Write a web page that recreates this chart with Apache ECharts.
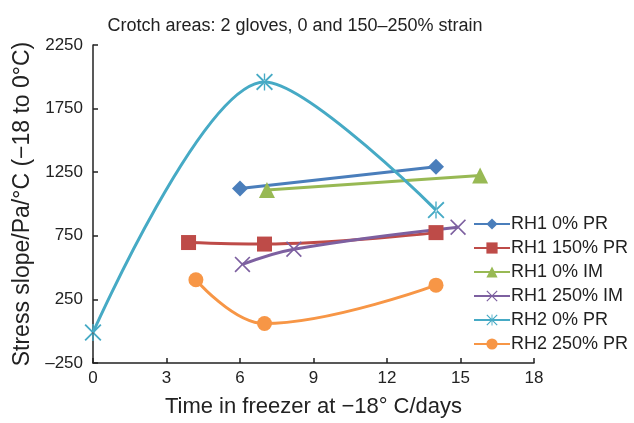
<!DOCTYPE html>
<html><head><meta charset="utf-8">
<script src="https://cdn.jsdelivr.net/npm/echarts@6/dist/echarts.min.js"></script>
<style>html,body{margin:0;padding:0;background:#fff}#c{width:634px;height:423px}</style>
</head><body><div id="c"></div>
<script>
const titleText = 'Crotch areas: 2 gloves, 0 and 150\u2013250% strain';
const xName = 'Time in freezer at \u221218\u00b0 C/days';
const yName = 'Stress slope/Pa/\u00b0C (\u221218 to 0\u00b0C)';
const xTicks = [0, 3, 6, 9, 12, 15, 18];
const yTicks = [-250, 250, 750, 1250, 1750, 2250];
const seriesNames = ['RH1 0% PR', 'RH1 150% PR', 'RH1 0% IM', 'RH1 250% IM', 'RH2 0% PR', 'RH2 250% PR'];
const rh1_0pr_x = [6, 14];       const rh1_0pr_y = [1122, 1292];
const rh1_150pr_x = [3.9, 7, 14]; const rh1_150pr_y = [697, 685, 775];
const rh1_0im_x = [7.1, 15.8];   const rh1_0im_y = [1110, 1225];
const rh1_250im_x = [6.1, 8.2, 14.9]; const rh1_250im_y = [525, 645, 818];
const rh2_0pr_x = [0, 7, 14];    const rh2_0pr_y = [-10, 1960, 952];
const rh2_250pr_x = [4.2, 7, 14]; const rh2_250pr_y = [405, 60, 362];

const xs = [rh1_0pr_x, rh1_150pr_x, rh1_0im_x, rh1_250im_x, rh2_0pr_x, rh2_250pr_x];
const ys = [rh1_0pr_y, rh1_150pr_y, rh1_0im_y, rh1_250im_y, rh2_0pr_y, rh2_250pr_y];
const colors = ['#4a7ebb', '#be4b48', '#98b954', '#7d60a0', '#46aac5', '#f79646'];
const xPath = 'path://M0,1.5 L1.5,0 L10,8.5 L18.5,0 L20,1.5 L11.5,10 L20,18.5 L18.5,20 L10,11.5 L1.5,20 L0,18.5 L8.5,10 Z';
const starPath = 'path://M0,1.5 L1.5,0 L10,8.5 L18.5,0 L20,1.5 L11.5,10 L20,18.5 L18.5,20 L10,11.5 L1.5,20 L0,18.5 L8.5,10 Z M9.2,0 L9.2,20 L10.8,20 L10.8,0 Z';
const symbols = ['diamond', 'rect', 'triangle', xPath, starPath, 'circle'];
const sizes = [16, 15, 16, 16, 17, 15];
const smooths = [0.4, 0.4, 0.4, 0.4, 0.3, 0.4];

const fmtNum = v => (v < 0 ? '\u2013' + Math.abs(v) : String(v));
const chart = echarts.init(document.getElementById('c'));
const FONT = 'Liberation Sans, Arial, sans-serif';
chart.setOption({
  animation: false,
  textStyle: { fontFamily: FONT },
  title: { text: titleText, left: 290, top: 12, textAlign: 'center',
    textStyle: { fontSize: 18, fontWeight: 'normal', color: '#222', fontFamily: FONT } },
  legend: {
    orient: 'vertical', left: 468, top: 210, itemGap: 6, itemWidth: 36, itemHeight: 14,
    textStyle: { fontSize: 18, color: '#222', fontFamily: FONT, padding: [0, 0, 0, -4] },
    data: seriesNames
  },
  grid: { left: 93, right: 100, top: 45, bottom: 56 },
  xAxis: {
    type: 'value', min: 0, max: 18, interval: 3,
    name: xName, nameLocation: 'middle', nameGap: 33,
    nameTextStyle: { fontSize: 22, color: '#222' },
    axisLine: { onZero: false, lineStyle: { color: '#222', width: 1.5 } },
    axisTick: { inside: true, length: 5, lineStyle: { color: '#222', width: 1.5 } },
    axisLabel: { fontSize: 17, color: '#222', margin: 7, formatter: fmtNum },
    splitLine: { show: false }
  },
  yAxis: {
    type: 'value', min: -250, max: 2250, interval: 250,
    name: yName, nameLocation: 'middle', nameGap: 59,
    nameTextStyle: { fontSize: 23, color: '#222' },
    axisLine: { show: true, onZero: false, lineStyle: { color: '#222', width: 1.5 } },
    axisTick: { show: true, inside: true, length: 5, customValues: yTicks, lineStyle: { color: '#222', width: 1.5 } },
    axisLabel: { fontSize: 17, color: '#222', margin: 10, customValues: yTicks, formatter: fmtNum },
    splitLine: { show: false }
  },
  series: seriesNames.map((n, i) => ({
    name: n, type: 'line', smooth: smooths[i],
    data: xs[i].map((x, j) => [x, ys[i][j]]),
    symbol: symbols[i], symbolSize: sizes[i],
    lineStyle: { color: colors[i], width: 3 },
    itemStyle: { color: colors[i] },
    z: 2
  }))
});
</script></body></html>
